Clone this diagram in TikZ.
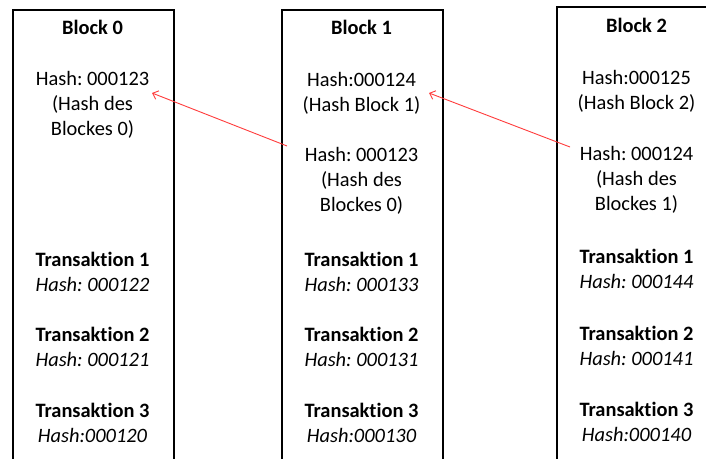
\documentclass[tikz,border=0pt]{standalone}
\usepackage{fontspec}
\setmainfont{Carlito}[Ligatures=NoCommon]
\frenchspacing
\usetikzlibrary{arrows.meta}
\definecolor{linkred}{RGB}{255,60,60}
\begin{document}
\begin{tikzpicture}[x=1bp,y=-1bp,
  txt/.style={align=center, inner sep=0pt, font=\fontsize{20.5}{25}\selectfont},
  ttl/.style={inner sep=0pt, font=\fontsize{20.5}{25}\selectfont\bfseries},
  blk/.style={draw=black, line width=1.6bp, minimum width=161bp, minimum height=480bp, anchor=north west, inner sep=0pt},
  link/.style={draw=linkred, line width=0.9bp, -{Straight Barb[length=5bp,width=9bp]}}
]
\useasboundingbox (0,0) rectangle (706,459);
\clip (0,0) rectangle (706,459);
\fill[white] (0,0) rectangle (706,459);

% blocks
\node[blk] (b0) at (12,9) {};
\node[blk] (b1) at (281,9) {};
\node[blk] (b2) at (556,6) {};

% titles
\node[ttl] (t0) at (92.5,27) {Block 0};
\node[ttl] (t1) at (361.5,27) {Block 1};
\node[ttl] (t2) at (636.5,25) {Block 2};

% block 0 hash
\node[txt] (h0) at (92.5,105) {Hash: 000123\\(Hash des\\Blockes 0)};

% block 1 hashes
\node[txt] (h1) at (361.5,93) {Hash:000124\\(Hash Block 1)};
\node[txt] (p1) at (361.5,181) {Hash: 000123\\(Hash des\\Blockes 0)};

% block 2 hashes
\node[txt] (h2) at (636.5,91) {Hash:000125\\(Hash Block 2)};
\node[txt] (p2) at (636.5,180) {Hash: 000124\\(Hash des\\Blockes 1)};

% transactions block 0
\node[txt] (x01) at (92.5,272) {\textbf{Transaktion 1}\\\textit{Hash: 000122}};
\node[txt] (x02) at (92.5,347) {\textbf{Transaktion 2}\\\textit{Hash: 000121}};
\node[txt] (x03) at (92.5,423) {\textbf{Transaktion 3}\\\textit{Hash:000120}};

% transactions block 1
\node[txt] (x11) at (361.5,272) {\textbf{Transaktion 1}\\\textit{Hash: 000133}};
\node[txt] (x12) at (361.5,347) {\textbf{Transaktion 2}\\\textit{Hash: 000131}};
\node[txt] (x13) at (361.5,423) {\textbf{Transaktion 3}\\\textit{Hash:000130}};

% transactions block 2
\node[txt] (x21) at (636.5,269) {\textbf{Transaktion 1}\\\textit{Hash: 000144}};
\node[txt] (x22) at (636.5,346) {\textbf{Transaktion 2}\\\textit{Hash: 000141}};
\node[txt] (x23) at (636.5,422) {\textbf{Transaktion 3}\\\textit{Hash:000140}};

% links
\coordinate (a1s) at (287,146);
\coordinate (a1e) at (152,93);
\coordinate (a2s) at (570,147);
\coordinate (a2e) at (429,93);
\draw[link] (a1s) -- (a1e);
\draw[link] (a2s) -- (a2e);
\end{tikzpicture}
\end{document}
